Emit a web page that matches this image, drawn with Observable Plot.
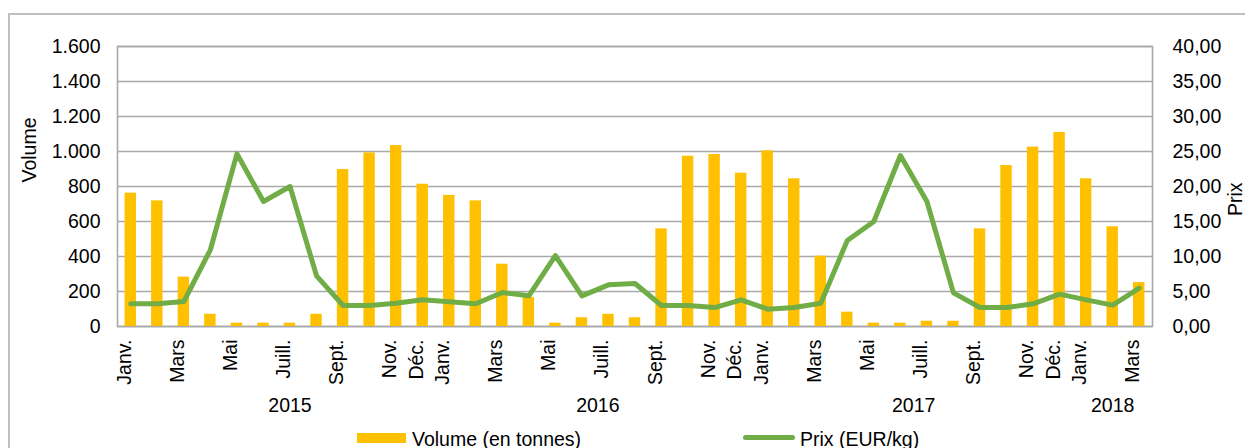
<!DOCTYPE html>
<html>
<head>
<meta charset="utf-8">
<script src="https://cdn.jsdelivr.net/npm/d3@7"></script>
<script src="https://cdn.jsdelivr.net/npm/@observablehq/plot@0.6"></script>
<style>
  html, body { margin: 0; padding: 0; background: #fff; overflow: hidden; }
  #wrap { position: relative; width: 1245px; height: 448px; font-family: "Liberation Sans", Arial, sans-serif; }
  #border { position: absolute; left: 8px; top: 13px; width: 1260px; height: 460px; border: 2px solid #bfbfbf; pointer-events: none; }
  #legend { position: relative; height: 23px; font-size: 19.5px; color: #000; }
  #legend .sw { position: absolute; }
  #legend .lab { position: absolute; top: 0; line-height: 23px; padding-top: 3px; white-space: nowrap; }
  svg { display: block; }
</style>
</head>
<body>
<div id="wrap">
  <div id="chart"></div>
  <div id="legend"></div>
  <div id="border"></div>
</div>
<script>
// ---- data ----
const months = [
  "Janv.","","Mars","","Mai","","Juill.","","Sept.","","Nov.","Déc.",
  "Janv.","","Mars","","Mai","","Juill.","","Sept.","","Nov.","Déc.",
  "Janv.","","Mars","","Mai","","Juill.","","Sept.","","Nov.","Déc.",
  "Janv.","","Mars"
];
const volume = [
  762, 718, 282, 70, 19, 19, 19, 70, 897, 992, 1034, 813,
  749, 718, 356, 166, 19, 50, 70, 50, 558, 973, 983, 876,
  1004, 844, 402, 82, 19, 19, 30, 30, 558, 920, 1025, 1109,
  844, 570, 251
];
const price = [
  3.24, 3.24, 3.57, 10.96, 24.67, 17.86, 20.00, 7.24, 3.00, 3.00, 3.33, 3.81,
  3.52, 3.24, 4.86, 4.38, 10.14, 4.38, 5.95, 6.14, 3.00, 3.00, 2.71, 3.81,
  2.48, 2.71, 3.33, 12.29, 15.00, 24.43, 17.86, 4.81, 2.71, 2.71, 3.24, 4.62,
  3.81, 3.05, 5.48
];
const years = ["2015", "2016", "2017", "2018"];
const yearLabelAt = [6, 17.6, 29.5, 37];   // month index under which each year label sits
const volumeTicks = [0, 200, 400, 600, 800, 1000, 1200, 1400, 1600];
const priceTicks = [0, 5, 10, 15, 20, 25, 30, 35, 40];
const seriesNames = ["Volume (en tonnes)", "Prix (EUR/kg)"];

// ---- build ----
const data = volume.map((v, i) => ({i, vol: v, price: price[i], label: months[i]}));
const ratio = 1600 / 40; // price -> volume axis
const loc = d3.formatLocale({decimal: ",", thousands: ".", grouping: [3], currency: ["", ""]});
const fmtVol = loc.format(",");
const fmtPrice = loc.format(".2f");
const yearData = years.map((y, k) => ({year: y, at: yearLabelAt[k]}));
const FS = 19.5;
const gridColor = "#a9a9a9";

const chart = Plot.plot({
  width: 1245,
  height: 425,
  marginLeft: 117,
  marginRight: 93,
  marginTop: 46,
  marginBottom: 99,
  style: {fontFamily: '"Liberation Sans", Arial, sans-serif', background: "transparent", color: "#000"},
  x: {type: "linear", domain: [-0.5, months.length - 0.5], axis: null},
  y: {domain: [0, 1600], axis: null},
  marks: [
    Plot.ruleY(volumeTicks, {stroke: gridColor, strokeWidth: 1.6}),
    Plot.frame({stroke: gridColor, strokeWidth: 1.6}),
    Plot.rectY(data, {x1: d => d.i - 0.215, x2: d => d.i + 0.215, y: "vol", fill: "#FFC000"}),
    Plot.line(data, {x: "i", y: d => d.price * ratio, stroke: "#70AD47", strokeWidth: 5, strokeLinejoin: "round", strokeLinecap: "round"}),
    // left axis labels
    Plot.text(volumeTicks, {y: d => d, text: d => fmtVol(d), frameAnchor: "left", textAnchor: "end", dx: -17, fontSize: FS, fill: "#000"}),
    // right axis labels
    Plot.text(priceTicks, {y: d => d * ratio, text: d => fmtPrice(d), frameAnchor: "right", textAnchor: "start", dx: 20, fontSize: FS, fill: "#000"}),
    // month labels
    Plot.text(data.filter(d => d.label), {x: "i", text: "label", frameAnchor: "bottom", rotate: -90, textAnchor: "end", dy: 13, fontSize: FS, fill: "#000"}),
    // year labels
    Plot.text(yearData, {x: "at", text: "year", frameAnchor: "bottom", dy: 85, fontSize: FS, fill: "#000"}),
    // axis titles
    Plot.text(["Volume"], {frameAnchor: "left", rotate: -90, dx: -88, dy: -4, fontSize: FS, fill: "#000"}),
    Plot.text(["Prix"], {frameAnchor: "right", rotate: -90, dx: 83, dy: -4, fontSize: FS, fill: "#000"})
  ]
});
document.getElementById("chart").appendChild(chart);

// legend
const legend = document.getElementById("legend");
legend.innerHTML = `
  <div class="sw" style="left:357px; top:8px; width:49px; height:10px; background:#FFC000"></div>
  <div class="lab" style="left:412px">${seriesNames[0]}</div>
  <div class="sw" style="left:743px; top:10px; width:52px; height:5px; border-radius:3px; background:#70AD47"></div>
  <div class="lab" style="left:800px">${seriesNames[1]}</div>
`;
</script>
</body>
</html>
